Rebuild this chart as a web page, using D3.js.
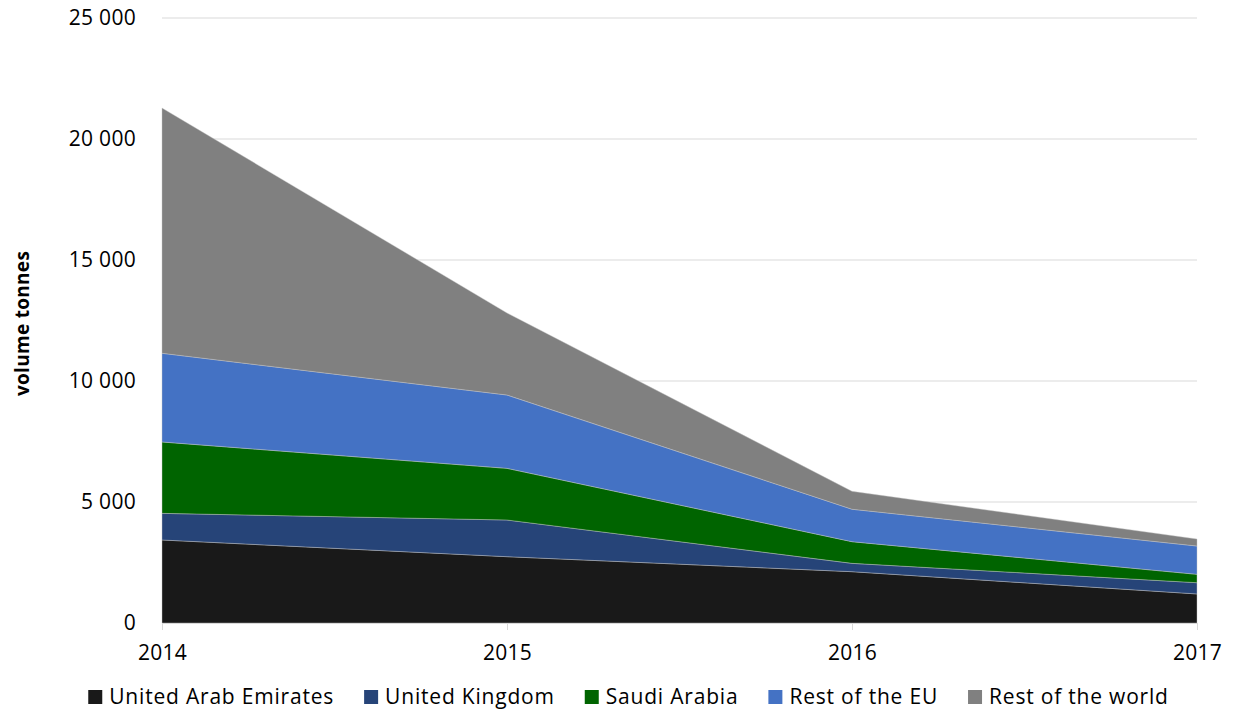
<!DOCTYPE html>
<html>
<head>
<meta charset="utf-8">
<script src="https://cdn.jsdelivr.net/npm/d3@7"></script>
<style>
  body { margin: 0; background: #fff; }
  svg { display: block; }
  text { font-family: "Open Sans", "Liberation Sans", sans-serif; fill: #000; }
</style>
</head>
<body>
<svg id="chart" width="1233" height="712"></svg>
<script>
const years = ["2014", "2015", "2016", "2017"];
const seriesNames = ["United Arab Emirates", "United Kingdom", "Saudi Arabia", "Rest of the EU", "Rest of the world"];
const uae = [3430, 2740, 2120, 1200];
const uk = [1100, 1516, 345, 465];
const saudi = [2950, 2134, 895, 345];
const restEU = [3665, 3030, 1340, 1170];
const restWorld = [10135, 3390, 740, 290];
const yTicks = [0, 5000, 10000, 15000, 20000, 25000];
const colors = ["#191919", "#264478", "#006400", "#4472C4", "#808080"];

const seriesValues = [uae, uk, saudi, restEU, restWorld];
const table = years.map((y, i) => {
  const row = { year: y };
  seriesNames.forEach((n, k) => row[n] = seriesValues[k][i]);
  return row;
});

const svg = d3.select("#chart");
const margin = { left: 162, right: 36, top: 18, bottom: 89 };
const W = 1233, H = 712;
const x = d3.scalePoint().domain(years).range([margin.left, W - margin.right]);
const y = d3.scaleLinear().domain([0, 25000]).range([H - margin.bottom, margin.top]);

// gridlines
svg.append("g").selectAll("line").data(yTicks.filter(t => t > 0)).join("line")
  .attr("x1", margin.left).attr("x2", W - margin.right)
  .attr("y1", d => y(d)).attr("y2", d => y(d))
  .attr("stroke", "#d9d9d9").attr("stroke-width", 1);

// stacked areas
const stack = d3.stack().keys(seriesNames);
const stacked = stack(table);
const area = d3.area()
  .x(d => x(d.data.year))
  .y0(d => y(d[0]))
  .y1(d => y(d[1]));

svg.append("g").selectAll("path").data(stacked).join("path")
  .attr("d", area)
  .attr("fill", (d, i) => colors[i])
  .attr("stroke", "#c8c8c8")
  .attr("stroke-width", 0.6)
  .attr("stroke-opacity", 0.7);

// y axis labels
const yAxis = d3.axisLeft(y).tickValues(yTicks).tickSize(0).tickPadding(26)
  .tickFormat(d => d3.format(",")(d).replace(/,/g, " "));
const gy = svg.append("g").attr("transform", `translate(${margin.left},0)`).call(yAxis);
gy.select(".domain").remove();
gy.selectAll("text").style("font-size", "21px").style("font-family", "'Open Sans', sans-serif")
  .style("letter-spacing", "0.3px").attr("fill", "#000");

// x axis
const xAxis = d3.axisBottom(x).tickSize(7).tickPadding(15);
const gx = svg.append("g").attr("transform", `translate(0,${H - margin.bottom})`).call(xAxis);
gx.select(".domain").attr("stroke", "#d9d9d9").attr("d", `M${margin.left},0.5H${W - margin.right}`);
gx.selectAll(".tick line").attr("stroke", "#d9d9d9");
gx.selectAll("text").style("font-size", "21px").style("font-family", "'Open Sans', sans-serif")
  .style("letter-spacing", "0.3px").attr("fill", "#000");

// y axis title
svg.append("text")
  .attr("transform", `translate(29,${(margin.top + H - margin.bottom) / 2 + 3}) rotate(-90)`)
  .attr("text-anchor", "middle")
  .style("font-size", "19px").style("font-weight", "bold").style("letter-spacing", "0.3px")
  .text("volume tonnes");

// legend
const lg = svg.append("g");
const items = lg.selectAll("g").data(seriesNames).join("g");
items.append("rect").attr("y", -14).attr("width", 14).attr("height", 14).attr("fill", (d, i) => colors[i]);
items.append("text").attr("x", 21).attr("y", 0).style("font-size", "21px")
  .style("letter-spacing", "0.8px").text(d => d);
let cx = 0;
const gap = 30;
items.each(function () {
  const w = this.querySelector("text").getComputedTextLength() + 21;
  d3.select(this).attr("transform", `translate(${cx},0)`);
  cx += w + gap;
});
const totalW = cx - gap;
lg.attr("transform", `translate(${(92 + 1165) / 2 - totalW / 2},${704})`);
</script>
</body>
</html>
